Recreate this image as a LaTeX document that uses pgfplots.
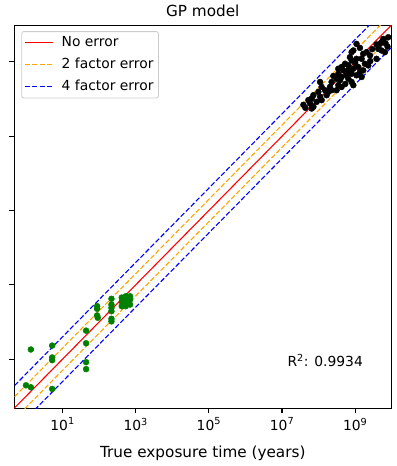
\documentclass[border=0pt]{standalone}
\usepackage{fontspec}
\setmainfont{DejaVu Sans}
\usepackage{pgfplots}
\pgfplotsset{compat=1.18}
\definecolor{mplorange}{HTML}{FFA500}
\definecolor{mplgreen}{HTML}{008000}
\newcommand{\legfont}{\fontsize{13.9pt}{16pt}\selectfont}
\begin{document}
\legfont
\begin{tikzpicture}
\begin{loglogaxis}[
  scale only axis, width=378pt, height=384pt,
  xmin=0.48, xmax=9.7e9, ymin=0.48, ymax=9.7e9,
  xtick={10,1000,1e5,1e7,1e9},
  xticklabels={10\textsuperscript{1},10\textsuperscript{3},10\textsuperscript{5},10\textsuperscript{7},10\textsuperscript{9}},
  ytick={10,1000,1e5,1e7,1e9},
  yticklabels={},
  xminorticks=false, yminorticks=false,
  tick align=outside, xtick pos=bottom, ytick pos=left,
  major tick length=4.9pt,
  every tick/.style={black, line width=1.1pt},
  axis line style={line width=1.1pt},
  title={GP model},
  xlabel={True exposure time (years)},
  title style={font=\fontsize{15.3pt}{18pt}\selectfont, yshift=-2pt},
  xlabel style={font=\fontsize{15.3pt}{18pt}\selectfont, yshift=-6pt},
  tick label style={font=\legfont},
  legend style={at={(0,1)}, anchor=north west, xshift=7pt, yshift=-6pt,
    draw=black!20, rounded corners=2pt, line width=0.8pt,
    font=\legfont,
    row sep=5.5pt, inner xsep=3pt, inner ysep=3pt,
    /tikz/every odd column/.append style={column sep=6pt}},
  legend cell align=left,
  legend image code/.code={\draw[#1] (0pt,0pt) -- (28pt,0pt);},
  clip=true,
]
\addplot[red, line width=1.1pt] coordinates {(0.1,0.1) (1e11,1e11)};
\addlegendentry{\legfont No error}
\addplot[mplorange, line width=1.1pt, dash pattern=on 5pt off 2.2pt] coordinates {(0.1,0.2) (1e11,2e11)};
\addlegendentry{\legfont 2 factor error}
\addplot[blue, line width=1.1pt, dash pattern=on 5pt off 2.2pt] coordinates {(0.1,0.4) (1e11,4e11)};
\addlegendentry{\legfont 4 factor error}
\addplot[mplorange, line width=1.1pt, dash pattern=on 5pt off 2.2pt, forget plot] coordinates {(0.1,0.05) (1e11,5e10)};
\addplot[blue, line width=1.1pt, dash pattern=on 5pt off 2.2pt, forget plot] coordinates {(0.1,0.025) (1e11,2.5e10)};
% green points (low range)
\addplot[only marks, mark=*, mark size=3pt, mplgreen, forget plot] coordinates {
(1.36,18.2) (1.0,1.98) (1.36,1.75) (5.2,23.2) (5.2,11.1) (5.2,9.4) (5.2,1.58)
(44,58.5) (44,26.8) (44,8.3) (44,5.4)
(88,266) (88,227) (88,150) (92,130)
(217,420) (217,295) (217,240) (217,195) (217,122) (217,104)
(415,455) (415,355) (415,266) (533,493) (533,402) (533,334) (533,266)
(700,493) (700,402) (700,295)
};
% black points (high range)
\addplot[only marks, mark=*, mark size=3pt, black, forget plot] coordinates {
(8.0e9,4.6e9) (5.85e9,4.15e9) (6.75e9,3.18e9) (5.25e9,3.38e9) (4.75e9,3.05e9)
(3.84e9,2.94e9) (7.66e9,2.59e9) (4.27e9,2.24e9) (5.25e9,2.03e9) (6.5e9,1.83e9)
(1.09e9,3.05e9) (1.35e9,2.38e9) (8.0e8,1.83e9) (8.9e8,2.03e9) (1.66e9,1.65e9)
(2.05e9,1.83e9) (3.84e9,1.21e9) (2.54e9,1.49e9) (7.2e8,1.34e9) (8.0e8,1.10e9)
(1.09e9,1.21e9) (1.50e9,1.21e9) (1.85e9,8.9e8) (2.28e9,8.05e8) (5.3e8,8.9e8)
(6.5e8,8.05e8) (4.26e8,7.26e8) (3.46e8,6.55e8) (4.73e8,5.93e8) (6.5e8,5.93e8)
(8.9e8,6.55e8) (1.22e9,7.26e8) (1.35e9,5.33e8) (1.66e9,5.93e8) (3.46e8,4.81e8)
(4.26e8,3.93e8) (5.82e8,4.36e8) (8.0e8,4.81e8) (1.09e9,4.36e8) (3.10e8,3.53e8)
(3.85e8,3.2e8) (6.5e8,3.53e8) (8.0e8,2.88e8) (1.50e9,3.93e8) (8.9e8,2.36e8)
(3.46e8,2.36e8) (3.10e8,1.73e8) (4.26e8,2.12e8) (2.27e8,2.88e8) (2.05e8,2.12e8)
(2.27e8,1.73e8) (1.10e8,2.88e8) (1.21e8,2.12e8) (9.85e7,1.56e8) (1.50e8,1.73e8)
(1.85e8,1.56e8) (1.66e8,1.27e8) (1.10e8,1.15e8) (1.21e8,9.35e7) (8.85e7,8.4e7)
(6.47e7,1.03e8) (5.25e7,9.35e7) (5.85e7,7.6e7) (7.2e7,6.18e7) (6.47e7,5.57e7)
(4.35e7,5.82e7) (3.84e7,7.0e7) (7.2e7,1.27e8) (2.53e8,4.17e8) (5.37e8,2.55e8)
(1.0e9,9.3e8) (2.58e9,1.05e9) (2.93e9,2.2e9)
};
\node[anchor=west, font=\legfont] at (rel axis cs:0.712,0.125) {R\textsuperscript{2}: 0.9934};
\end{loglogaxis}
\path (-13pt,-58pt) rectangle (383pt,408pt);
\end{tikzpicture}
\end{document}
